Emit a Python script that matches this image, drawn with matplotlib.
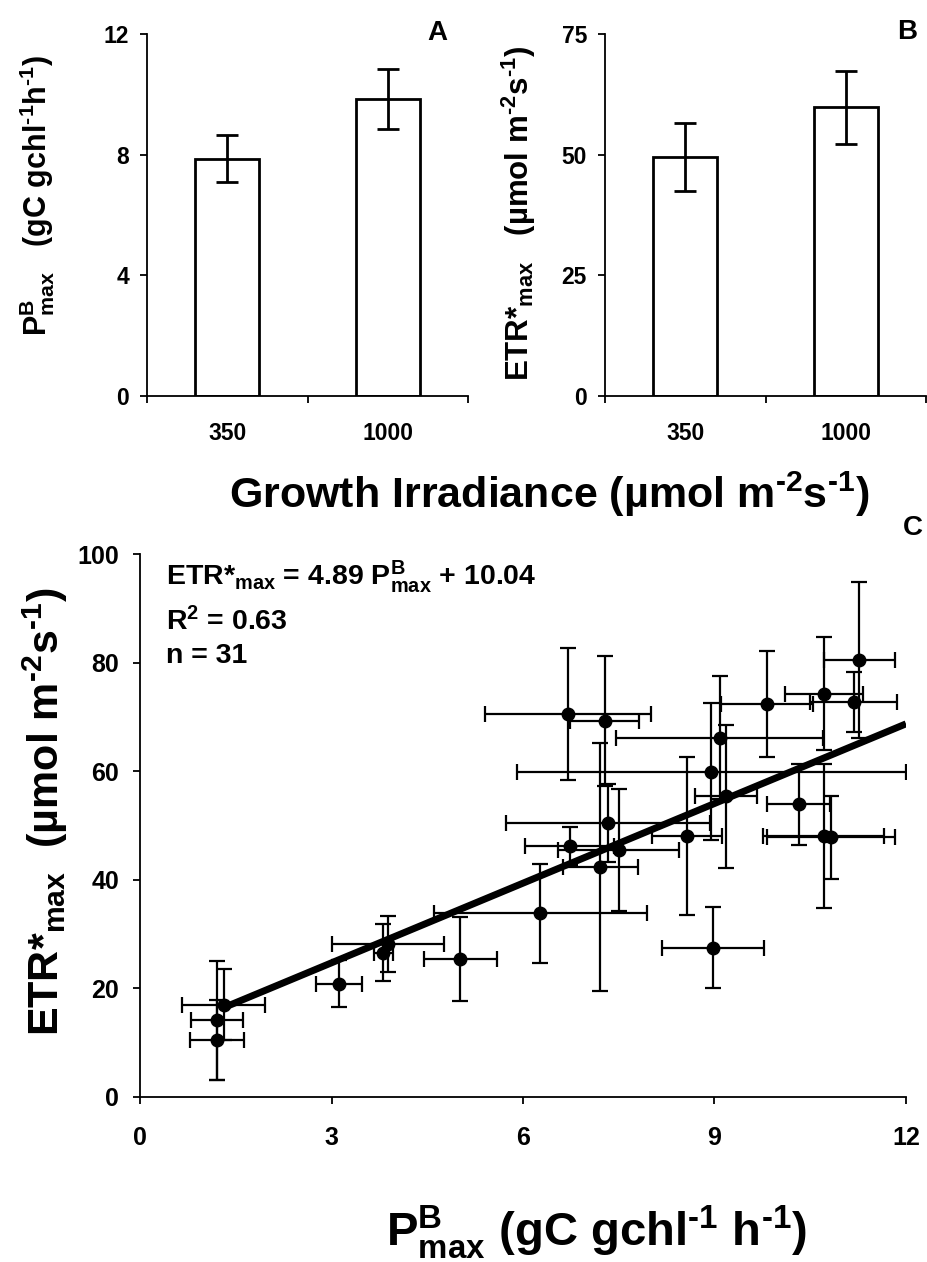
import matplotlib
matplotlib.use("Agg")
import matplotlib.pyplot as plt
import numpy as np

plt.rcParams["font.family"] = ["Liberation Sans", "DejaVu Sans"]
plt.rcParams["font.weight"] = "bold"
plt.rcParams["axes.labelweight"] = "bold"
plt.rcParams["mathtext.fontset"] = "custom"
plt.rcParams["mathtext.rm"] = "Liberation Sans:bold"
plt.rcParams["mathtext.it"] = "Liberation Sans:bold"
plt.rcParams["mathtext.bf"] = "Liberation Sans:bold"
plt.rcParams["mathtext.default"] = "rm"

# ── data: panels A/B, means +/- SE per growth irradiance ─────────────────────
irr_labels = ["350", "1000"]
pbmax_mean = [7.86, 9.85]
pbmax_err = [0.78, 1.00]
etr_mean = [49.5, 59.8]
etr_err = [7.1, 7.5]

# ── data: panel C, individual cultures ───────────────────────────────────────
pb_x = [1.21, 1.21, 1.31, 3.11, 3.81, 3.89, 5.02, 6.27, 6.71, 7.28, 6.73, 7.21,
        7.33, 7.50, 8.57, 8.95, 9.08, 9.18, 8.98, 9.82, 10.32, 10.71, 10.71,
        10.83, 11.18, 11.27]
pb_xerr = [0.42, 0.41, 0.65, 0.36, 0.15, 0.88, 0.57, 1.67, 1.30, 0.54, 0.70,
           0.59, 1.60, 0.95, 0.55, 3.05, 1.62, 0.48, 0.80, 0.72, 0.49, 0.61,
           0.95, 1.00, 0.68, 0.55]
etr_y = [10.5, 14.1, 17.0, 20.9, 26.6, 28.2, 25.4, 33.8, 70.5, 69.2, 46.3, 42.4,
         50.4, 45.5, 48.1, 59.9, 66.2, 55.4, 27.5, 72.4, 53.9, 74.3, 48.1, 47.8,
         72.8, 80.5]
etr_yerr = [7.4, 10.9, 6.5, 4.4, 5.2, 5.2, 7.8, 9.2, 12.2, 12.0, 3.5, 22.8, 7.2,
            11.3, 14.6, 12.6, 11.4, 13.2, 7.5, 9.7, 7.5, 10.4, 13.3, 7.6, 5.5,
            14.3]
slope, intercept = 4.89, 10.04
fit_x = [1.3, 12.0]

# unit strings with short hyphen exponents
M1 = r"$^{\text{-}1}$"
M2 = r"$^{\text{-}2}$"

W, H = 927, 1262
fig = plt.figure(figsize=(W / 100, H / 100), dpi=100, facecolor="white")


def box(l, t, r, b):
    return [l / W, 1 - b / H, (r - l) / W, (b - t) / H]


def style(ax, size):
    for s in ("top", "right"):
        ax.spines[s].set_visible(False)
    for s in ("left", "bottom"):
        ax.spines[s].set_linewidth(1.3)
    ax.tick_params(direction="out", length=5, width=1.3, labelsize=size, pad=8)


def bar_panel(ax, means, errs, ymax, yticks, ylabel, size, label_xy):
    pos = np.arange(len(means)) + 0.5
    ax.bar(pos, means, width=0.4, color="white", edgecolor="black", linewidth=2)
    ax.errorbar(pos, means, yerr=errs, fmt="none", ecolor="black",
                elinewidth=2, capsize=8, capthick=2)
    ax.set_xlim(0, len(means))
    ax.set_ylim(0, ymax)
    ax.set_yticks(yticks)
    style(ax, 16.5)
    ax.set_xticks([0, 1, 2])
    ax.set_xticklabels([])
    ax.set_xticks(pos, minor=True)
    ax.set_xticklabels(irr_labels, minor=True)
    ax.tick_params(axis="x", which="minor", length=0, pad=19, labelsize=16.5)
    ax.set_ylabel(ylabel, fontsize=size)
    ax.yaxis.set_label_coords(*label_xy)


axA = fig.add_axes(box(147, 34, 468, 396))
bar_panel(axA, pbmax_mean, pbmax_err, 12, [0, 4, 8, 12],
          r"P$^{B}_{max}$   (gC gchl" + M1 + "h" + M1 + ")", 22,
          (-0.28, 0.555))
fig.text(437 / W, 1 - 33 / H, "A", fontsize=20, ha="center", va="center")

axB = fig.add_axes(box(605, 34, 926, 396))
bar_panel(axB, etr_mean, etr_err, 75, [0, 25, 50, 75],
          r"ETR*$_{max}$   (µmol m" + M2 + "s" + M1 + ")", 22.5,
          (-0.21, 0.505))
fig.text(907 / W, 1 - 32 / H, "B", fontsize=20, ha="center", va="center")

fig.text(549 / W, 1 - 494 / H, "Growth Irradiance (µmol m" + M2 + "s" + M1 + ")",
         fontsize=31, ha="center", va="center")

# ── panel C: ETR*max against PBmax with linear fit ───────────────────────────
axC = fig.add_axes(box(140, 554, 906, 1097))
axC.errorbar(pb_x, etr_y, xerr=pb_xerr, yerr=etr_yerr, fmt="o", color="black",
             markersize=9, ecolor="black", elinewidth=1.6, capsize=6,
             capthick=1.6)
fx = np.array(fit_x)
axC.plot(fx, slope * fx + intercept, color="black", linewidth=5,
         solid_capstyle="butt")
axC.set_xlim(0, 12)
axC.set_ylim(0, 100)
axC.set_xticks([0, 3, 6, 9, 12])
axC.set_yticks([0, 20, 40, 60, 80, 100])
style(axC, 18)
axC.tick_params(axis="y", pad=10)
axC.tick_params(axis="x", pad=16)
axC.text(0.41, 94.3, r"ETR*$_{max}$ = 4.89 P$^{B}_{max}$ + 10.04", fontsize=20.5,
         va="baseline")
axC.text(0.41, 86, r"R$^{2}$ = 0.63", fontsize=20.5, va="baseline")
axC.text(0.41, 80, "n = 31", fontsize=20.5, va="baseline")
fig.text(913 / W, 1 - 528 / H, "C", fontsize=20, ha="center", va="center")
axC.set_ylabel(r"ETR*$_{max}$  (µmol m" + M2 + "s" + M1 + ")", fontsize=31)
axC.yaxis.set_label_coords(-0.092, 0.525)
fig.text(597 / W, 1 - 1232 / H, r"P$^{B}_{max}$ (gC gchl" + M1 + " h" + M1 + ")",
         fontsize=34, ha="center", va="center")

fig.savefig("out.png", dpi=100, facecolor="white")
